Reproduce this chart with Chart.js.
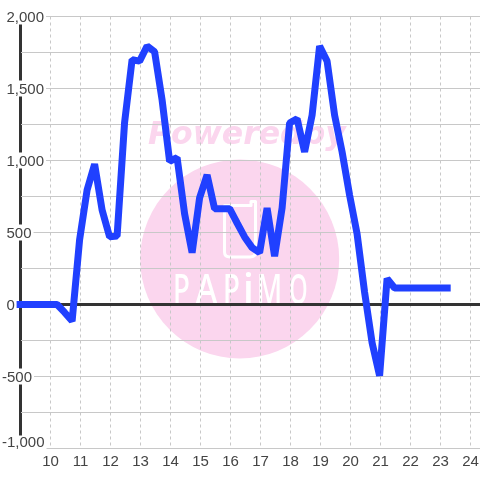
<!DOCTYPE html>
<html>
<head>
<meta charset="utf-8">
<style>
  html, body { margin: 0; padding: 0; background: #fff; }
  #wrap { width: 480px; height: 480px; }
</style>
<script src="https://cdn.jsdelivr.net/npm/chart.js@4"></script>
</head>
<body>
<div id="wrap"><canvas id="chart"></canvas></div>
<script>
// Values
const hours = [8.87, 10.22, 10.47, 10.72, 10.97, 11.22, 11.47, 11.72, 11.97, 12.22,
    12.47, 12.72, 12.97, 13.22, 13.47, 13.72, 13.97, 14.22, 14.47, 14.72,
    14.97, 15.22, 15.47, 15.72, 15.97, 16.22, 16.47, 16.72, 16.97, 17.22,
    17.47, 17.72, 17.97, 18.22, 18.47, 18.72, 18.97, 19.22, 19.47, 19.72,
    19.97, 20.22, 20.47, 20.72, 20.97, 21.22, 21.47, 23.34];
const power = [0, 0, -55, -115, 450, 795, 975, 656, 470, 475,
    1265, 1700, 1690, 1795, 1755, 1420, 995, 1020, 630, 360,
    740, 900, 665, 665, 665, 566, 469, 395, 360, 670,
    335, 670, 1260, 1290, 1060, 1315, 1795, 1690, 1315, 1060,
    760, 490, 85, -265, -495, 180, 115, 115];

const TEXT_COLOR = '#444444';
const GRID_COLOR = '#c8c8c8';
const AXIS_COLOR = '#333333';
const PINK = '#fbd6ee';

const fontStack = "'Liberation Sans', Arial, sans-serif";

// Pink logo behind the grid
const watermark = {
    id: 'watermark',
    beforeDraw(chart) {
        const c = chart.ctx;
        c.save();
        c.fillStyle = '#ffffff';
        c.fillRect(0, 0, chart.width, chart.height);

        c.fillStyle = PINK;
        c.beginPath();
        c.arc(239.7, 259, 99.5, 0, Math.PI * 2);
        c.fill();

        c.font = "italic bold 31.5px 'DejaVu Sans', sans-serif";
        c.textBaseline = 'alphabetic';
        c.textAlign = 'left';
        c.fillText('Poweredby', 148, 144);

        // clipboard icon
        c.strokeStyle = '#ffffff';
        c.lineWidth = 3;
        c.lineJoin = 'round';
        c.beginPath();
        c.moveTo(251, 205.5);
        c.lineTo(251, 201.5);
        c.lineTo(255.5, 201.5);
        c.lineTo(255.5, 252);
        c.quadraticCurveTo(255.5, 257, 250, 257);
        c.lineTo(230, 257);
        c.quadraticCurveTo(224.5, 257, 224.5, 252);
        c.lineTo(224.5, 205.5);
        c.closePath();
        c.stroke();

        // logo letters, squeezed to fit their slots
        const letters = [['P', 181.5, 0.66], ['A', 206.5, 0.8], ['P', 231.5, 0.66],
            ['i', 248.5, 1], ['M', 269.5, 0.66], ['O', 298.5, 0.56]];
        c.fillStyle = '#ffffff';
        c.textAlign = 'center';
        c.font = "500 42px 'Noto Sans', sans-serif";
        letters.forEach(([ch, x, sx]) => {
            c.save();
            c.translate(x, 304);
            c.scale(sx, 1);
            c.fillText(ch, 0, 0);
            c.restore();
        });
        c.restore();
    }
};

// Value labels sit on a white box over the axis, the lowest one is pushed up
const yLabels = {
    id: 'yLabels',
    beforeDatasetsDraw(chart) {
        const c = chart.ctx;
        const scale = chart.scales.y;
        c.save();
        c.font = '15px ' + fontStack;
        c.textBaseline = 'middle';
        c.textAlign = 'left';
        scale.ticks.forEach(t => {
            if (t.value % 500 !== 0) return;
            const label = t.value.toLocaleString('en-US');
            const x = t.value < 0 ? 2 : 6.5;
            const px = scale.getPixelForValue(t.value);
            const y = Math.min(px, 441.5);
            const w = c.measureText(label).width;
            const top = px > 441.5 ? y - 6 : y - 8;
            c.fillStyle = '#ffffff';
            c.fillRect(0, top, x + w + 2, y + 8 - top);
            c.fillStyle = TEXT_COLOR;
            c.fillText(label, x, y + 1);
        });
        c.restore();
    }
};

new Chart(document.getElementById('chart').getContext('2d'), {
    type: 'line',
    data: {
        datasets: [{
            data: hours.map((h, i) => ({ x: h, y: power[i] })),
            borderColor: '#2040ff',
            borderWidth: 7,
            borderJoinStyle: 'bevel',
            borderCapStyle: 'butt',
            pointRadius: 0,
            tension: 0,
            fill: false,
            clip: false
        }]
    },
    options: {
        responsive: true,
        maintainAspectRatio: false,
        animation: false,
        layout: { padding: { left: 20.5, top: 16.5, right: 0, bottom: 0 } },
        plugins: {
            legend: { display: false },
            tooltip: { enabled: false }
        },
        scales: {
            x: {
                type: 'linear',
                min: 9,
                max: 24.317,
                afterFit(scale) {
                    scale.height = 31.5;
                    // last tick label must not shrink the plot
                    scale.paddingLeft = 0;
                    scale.paddingRight = 0;
                },
                ticks: {
                    stepSize: 1,
                    includeBounds: false,
                    autoSkip: false,
                    maxRotation: 0,
                    padding: 4,
                    color: TEXT_COLOR,
                    font: { family: fontStack, size: 15 },
                    callback: v => (v === 9 ? '' : String(v))
                },
                grid: {
                    drawTicks: false,
                    color: ctx => (ctx.tick && ctx.tick.value === 9 ? AXIS_COLOR : GRID_COLOR),
                    lineWidth: ctx => (ctx.tick && ctx.tick.value === 9 ? 3 : 1)
                },
                border: {
                    display: false,
                    dash: ctx => (ctx.tick && ctx.tick.value === 9 ? [] : [3, 3])
                }
            },
            y: {
                type: 'linear',
                min: -1000,
                max: 2000,
                ticks: { stepSize: 250, display: false },
                grid: {
                    drawTicks: false,
                    color: ctx => (ctx.tick && ctx.tick.value === 0 ? AXIS_COLOR : GRID_COLOR),
                    lineWidth: ctx => (ctx.tick && ctx.tick.value === 0 ? 3 : 1)
                },
                border: { display: false }
            }
        }
    },
    plugins: [watermark, yLabels]
});
</script>
</body>
</html>
